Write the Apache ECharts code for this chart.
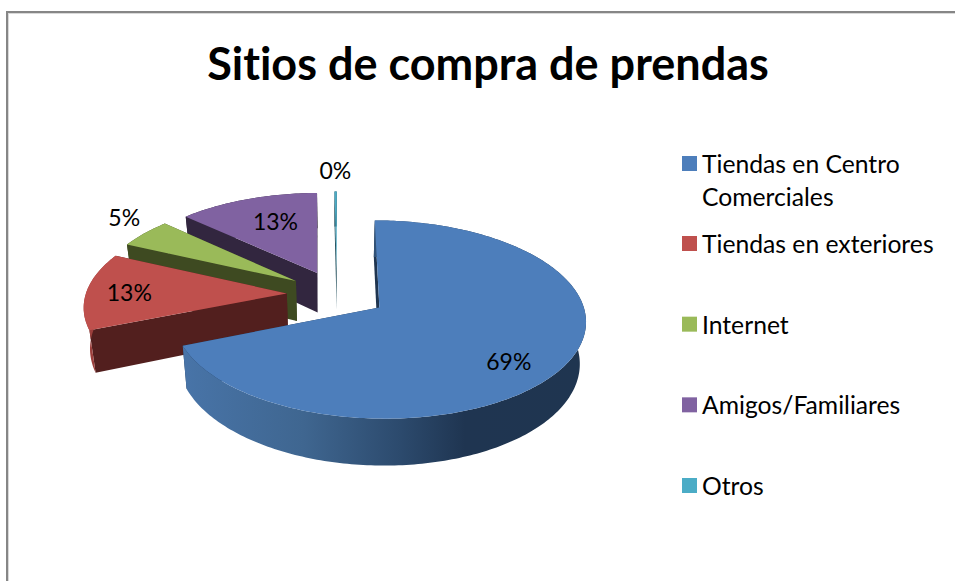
<!DOCTYPE html>
<html><head><meta charset="utf-8">
<style>html,body{margin:0;padding:0;background:#fff}#c{width:955px;height:581px}text{font-variant-ligatures:none}</style>
<script src="https://cdn.jsdelivr.net/npm/echarts@6/dist/echarts.min.js"></script>
</head><body><div id="c"></div>
<script>
const titleText = 'Sitios de compra de prendas';
const categories = ['Tiendas en Centro Comerciales','Tiendas en exteriores','Internet','Amigos/Familiares','Otros'];
const values = [68.9, 13.0, 5.0, 12.9, 0.2];
const labels = ['69%','13%','5%','13%','0%'];
const topColors = ['#4d7ebb','#bf504d','#9aba59','#8062a1','#4bacc6'];
const wallColors = ['#1f3550','#521f1e','#3e4a21','#32263f','#1d4a57'];
const sideColors = ['#1f3550','#9c3f3c','#3e4a21','#32263f','#1d4a57'];
const labelRadius = [0.78,0.785,1.22,0.66,1.29];
const labelTurn = [8,-1,4,3,0];

// 3-D projection of the unit pie disk
const FONT = 'Lato, Carlito, sans-serif';
const CX = 337, CY = 294, R = 201, A = 94.4, K = 0.12, DEPTH = 40.5, SHRINK = 0.975, EXPLODE = 0.25;
const total = values.reduce((a,b)=>a+b,0);
const starts = []; let acc = 0;
values.forEach(v=>{ starts.push(acc/total*360); acc+=v; });
const rad = d => d*Math.PI/180;
function project(u,v,low){
  const s = 1/(1-K*v);
  return [CX + R*u*s*(low?SHRINK:1), CY + A*v*s + (low?DEPTH*s:0)];
}
function sliceShape(i){
  const a0 = starts[i], a1 = a0 + values[i]/total*360, mid = (a0+a1)/2;
  const ou = EXPLODE*Math.sin(rad(mid)), ov = -EXPLODE*Math.cos(rad(mid));
  const at = (ang,r,low)=>project(ou+r*Math.sin(rad(ang)), ov-r*Math.cos(rad(ang)), low);
  const arc = low => { const p=[]; const n=Math.max(2,Math.ceil(a1-a0)); for(let k=0;k<=n;k++) p.push(at(a0+(a1-a0)*k/n,1,low)); return p; };
  return {a0,a1,mid,at,arc};
}
const blueWall = {type:'linear',x:0,y:0,x2:1,y2:0,colorStops:[
  {offset:0,color:'#4874a8'},{offset:0.3,color:'#3f6690'},{offset:0.54,color:'#2c4a6d'},{offset:0.7,color:'#1f3551'},{offset:1,color:'#1f3550'}]};
function renderSlice(i){
  const s = sliceShape(i);
  const topArc = s.arc(false), lowArc = s.arc(true);
  const apexT = s.at(0,0,false), apexL = s.at(0,0,true);
  const poly = (pts,fill)=>({type:'polygon',shape:{points:pts},style:{fill:fill,stroke:null},silent:true});
  const children = [
    poly([apexT,topArc[topArc.length-1],lowArc[lowArc.length-1],apexL], wallColors[i]),
    poly([apexT,topArc[0],lowArc[0],apexL], wallColors[i]),
    poly(topArc.concat(lowArc.slice().reverse()), i===0?blueWall:sideColors[i]),
    poly([apexT].concat(topArc), topColors[i])
  ];
  const lp = s.at(s.mid+labelTurn[i],labelRadius[i],false);
  children.push({type:'text',x:lp[0],y:lp[1]-1,silent:true,style:{text:labels[i],fill:'#000',font:'23px '+FONT,align:'center',verticalAlign:'middle'}});
  return {type:'group',children};
}
const series = [];
for(let i=categories.length-1;i>=0;i--){
  series.push({type:'custom',name:categories[i],coordinateSystem:'none',data:[values[i]],itemStyle:{color:topColors[i]},
    renderItem:()=>renderSlice(i)});
}
const legendText = {color:'#000',fontFamily:FONT,fontSize:24.7,lineHeight:33};
const chart = echarts.init(document.getElementById('c'),null,{renderer:'svg'});
chart.setOption({
  animation:false,
  backgroundColor:'#fff',
  title:{text:titleText,left:483,textAlign:'center',top:35,textStyle:{color:'#000',fontFamily:FONT,fontWeight:'bold',fontSize:45}},
  legend:[
    {data:[categories[0]],orient:'vertical',left:682,top:114,padding:0,itemWidth:15,itemHeight:15,icon:'rect',textStyle:legendText,
     formatter:()=>'\nTiendas en Centro\nComerciales'},
    {data:categories.slice(1),orient:'vertical',left:682,top:227,padding:0,itemGap:47.67,itemWidth:15,itemHeight:15,icon:'rect',textStyle:legendText}
  ],
  graphic:[
    {type:'rect',z:-3,silent:true,shape:{x:6,y:11,width:1000,height:1000},style:{fill:'#868686'}},
    {type:'rect',z:-2,silent:true,shape:{x:8,y:13,width:1000,height:1000},style:{fill:'#d9d9d9'}},
    {type:'rect',z:-1,silent:true,shape:{x:9,y:14,width:1000,height:1000},style:{fill:'#fff'}}
  ],
  series
});
</script></body></html>
